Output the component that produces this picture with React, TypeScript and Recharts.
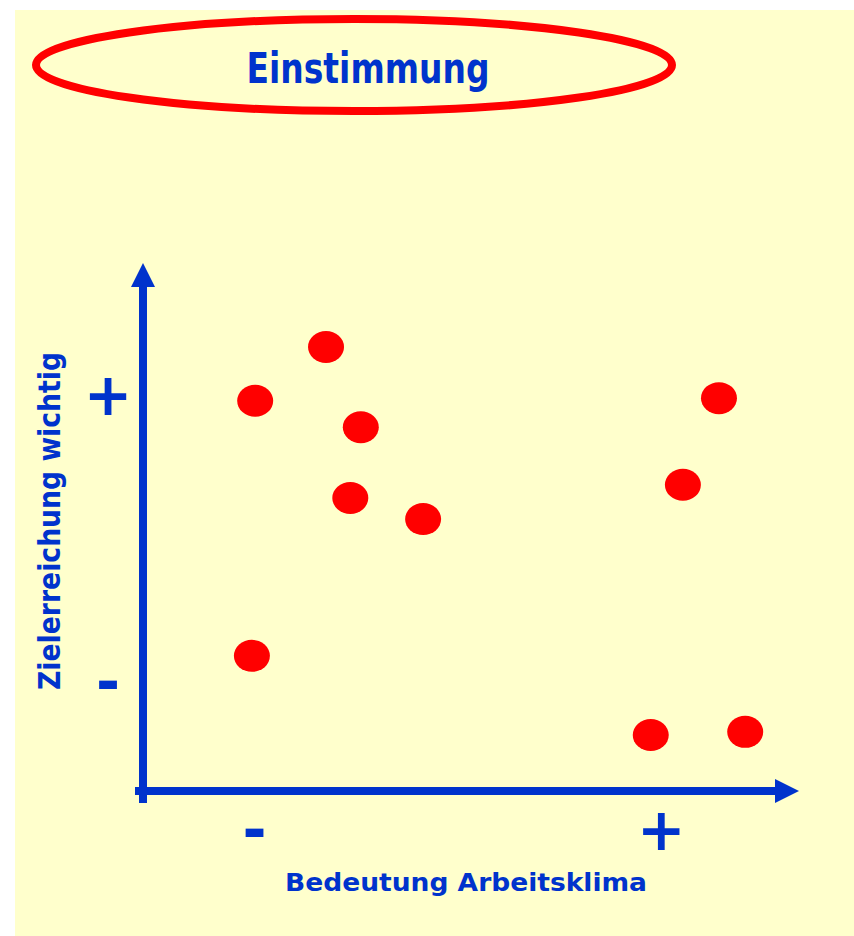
import { ScatterChart, Scatter, XAxis, YAxis, Label } from "recharts";

// Bedeutung Arbeitsklima (x) vs. Zielerreichung wichtig (y), 0..100
const klima = [17.1, 27.9, 33.2, 31.6, 42.7, 16.6, 87.8, 82.3, 77.4, 91.8];
const ziel = [73.9, 84.1, 68.9, 55.5, 51.5, 25.6, 74.4, 58.0, 10.6, 11.2];
const xTicks = [17, 79];
const xTickLabels = ["-", "+"];
const yTicks = [20.6, 75];
const yTickLabels = ["-", "+"];

const title = "Einstimmung";
const xTitle = "Bedeutung Arbeitsklima";
const yTitle = "Zielerreichung wichtig";

const W = 854;
const H = 936;
const PLOT = { left: 143, top: 263, right: 799, bottom: 791 };
const XH = 60;
const YW = 100;
const BLUE = "#0033CC";
const RED = "#FF0000";
const FONT = "'Comic Sans MS', 'DejaVu Sans', sans-serif";

const data = klima.map((x, i) => ({ x, y: ziel[i] }));

function XTick({ x, payload }: any) {
  const label = xTickLabels[xTicks.indexOf(payload.value)];
  return (
    <text x={x} y={PLOT.bottom + 59} textAnchor="middle" fontSize={58} fontWeight="bold" fill={BLUE} fontFamily={FONT}>
      {label}
    </text>
  );
}

function YTick({ y, payload }: any) {
  const label = yTickLabels[yTicks.indexOf(payload.value)];
  return (
    <text x={108} y={y + 20} textAnchor="middle" fontSize={58} fontWeight="bold" fill={BLUE} fontFamily={FONT}>
      {label}
    </text>
  );
}

function Dot({ cx, cy }: any) {
  return <ellipse cx={cx} cy={cy} rx={18} ry={16} fill={RED} />;
}

function Decor() {
  return (
    <g>
      <ellipse cx={354} cy={65} rx={318} ry={46} fill="none" stroke={RED} strokeWidth={8} />
      <text x={368} y={83} textAnchor="middle" fontSize={42} fontWeight="bold" fill={BLUE} fontFamily={FONT} textLength={243} lengthAdjust="spacingAndGlyphs">
        {title}
      </text>
      {/* Achsen mit Pfeilen */}
      <line x1={PLOT.left} y1={PLOT.bottom + 12} x2={PLOT.left} y2={PLOT.top + 22} stroke={BLUE} strokeWidth={8} />
      <polygon points={`${PLOT.left - 12},${PLOT.top + 24} ${PLOT.left + 12},${PLOT.top + 24} ${PLOT.left},${PLOT.top}`} fill={BLUE} />
      <line x1={PLOT.left - 8} y1={PLOT.bottom} x2={PLOT.right - 22} y2={PLOT.bottom} stroke={BLUE} strokeWidth={8} />
      <polygon points={`${PLOT.right - 24},${PLOT.bottom - 12} ${PLOT.right - 24},${PLOT.bottom + 12} ${PLOT.right},${PLOT.bottom}`} fill={BLUE} />
    </g>
  );
}

export default function App() {
  return (
    <div style={{ position: "absolute", left: 0, top: 0, width: W, height: H, background: "#fff" }}>
      <div style={{ position: "absolute", left: 15, top: 10, right: 0, bottom: 0, background: "#FFFFCC" }} />
      <div style={{ position: "absolute", left: 0, top: 0 }}>
        <ScatterChart
          width={W}
          height={H}
          margin={{ top: PLOT.top, right: W - PLOT.right, bottom: H - PLOT.bottom - XH, left: PLOT.left - YW }}
        >
          <Decor />
          <XAxis
            type="number"
            dataKey="x"
            domain={[0, 100]}
            ticks={xTicks}
            height={XH}
            axisLine={false}
            tickLine={false}
            tick={<XTick />}
            interval={0}
          >
            <Label
              content={() => (
                <text x={466} y={891} textAnchor="middle" fontSize={25} fontWeight="bold" fill={BLUE} fontFamily={FONT} textLength={362} lengthAdjust="spacingAndGlyphs">
                  {xTitle}
                </text>
              )}
            />
          </XAxis>
          <YAxis
            type="number"
            dataKey="y"
            domain={[0, 100]}
            ticks={yTicks}
            width={YW}
            axisLine={false}
            tickLine={false}
            tick={<YTick />}
            interval={0}
          >
            <Label
              content={() => (
                <text
                  x={60}
                  y={521}
                  transform="rotate(-90 60 521)"
                  textAnchor="middle"
                  fontSize={31}
                  fontWeight="bold"
                  fill={BLUE}
                  fontFamily={FONT}
                  textLength={338}
                  lengthAdjust="spacingAndGlyphs"
                >
                  {yTitle}
                </text>
              )}
            />
          </YAxis>
          <Scatter data={data} shape={<Dot />} isAnimationActive={false} />
        </ScatterChart>
      </div>
    </div>
  );
}
